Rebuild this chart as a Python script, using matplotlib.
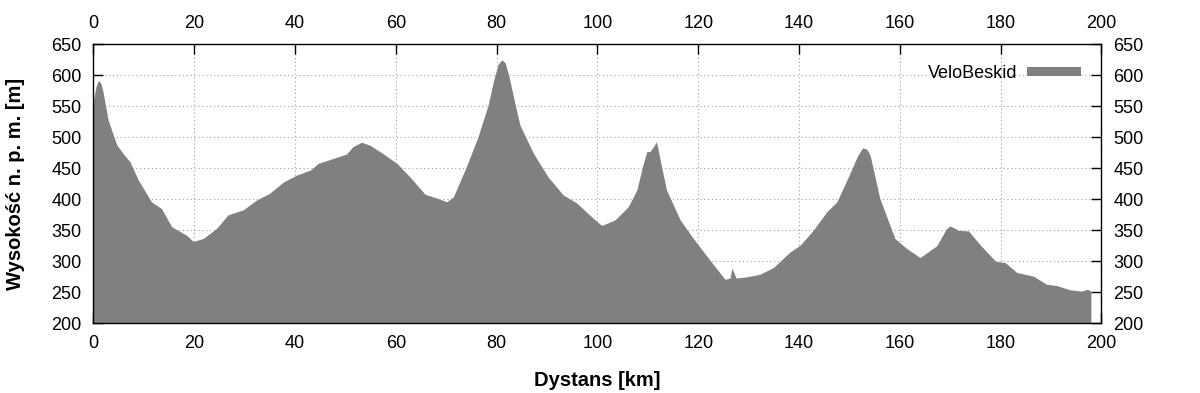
import matplotlib.pyplot as plt
import numpy as np

plt.rcParams['font.family'] = ['Liberation Sans', 'DejaVu Sans']

# profil trasy VeloBeskid
dystans = [0, 0.5, 1.0, 1.5, 1.9, 2.9, 4.6, 6.25, 7.2, 8.9, 11.5, 13.5, 15.5, 17.2, 18.5, 19.8,
           21.8, 24.4, 26.7, 29.7, 32.4, 35, 37.7, 40.3, 43, 44.6, 47.6, 50.2, 51.5,
           53.2, 54.9, 57.2, 60.2, 62.8, 65.8, 68.1, 70.1, 71.4, 74.0, 76.3, 78.3,
           79.4, 80.3, 81.0, 81.7, 82.5, 83.6, 84.6, 87.3, 90.2, 93.2, 95.9, 98.8, 100.8, 102.1,
           103.5, 106.1, 107.8, 109.1, 109.8, 110.4, 111.2, 111.7, 112.7, 113.7, 116.4,
           119.0, 122.3, 125.3, 126.3, 126.7, 127.5, 129.6, 132.2, 134.9, 138.2,
           140.2, 142.8, 145.5, 147.5, 150.1, 151.6, 152.6, 153.4, 154.1, 156.0, 159.0,
           161.3, 164.0, 167.3, 169.2, 169.9, 171.0, 171.6, 173.6, 176.0, 179.0, 180.9, 183.2,
           186.5, 189.1, 191.1, 193.8, 196.1, 197.2, 197.9]
wysokosc = [560, 582, 592, 586, 573, 528, 488, 470, 461, 431, 396, 385, 356, 348, 342, 332,
            337, 353, 375, 383, 399, 410, 428, 439, 447, 458, 466, 473, 485,
            492, 487, 475, 458, 436, 408, 402, 396, 404, 453, 501, 552,
            592, 618, 625, 620, 596, 555, 520, 474, 436, 407, 394, 372, 358, 362,
            367, 388, 415, 458, 477, 477, 486, 493, 453, 415, 367,
            337, 302, 271, 273, 289, 273, 275, 279, 290, 315,
            326, 350, 380, 396, 442, 470, 483, 481, 471, 402, 337,
            321, 306, 325, 352, 357, 353, 350, 349, 326, 300, 298, 282,
            276, 263, 261, 254, 252, 255, 252]

fig = plt.figure(figsize=(12, 3.93), dpi=100)
ax = fig.add_axes([0.0779, 0.1773, 0.8400, 0.7100])

ax.fill_between(dystans, wysokosc, 200, color='#808080', linewidth=0,
                label='VeloBeskid', zorder=2)

ax.set_xlim(0, 200)
ax.set_ylim(200, 650)
ax.set_xticks(np.arange(0, 201, 20))
ax.set_yticks(np.arange(200, 651, 50))
ax.grid(True, color='#a0a0a0', linestyle=(0, (1, 2.5)), linewidth=0.8)
ax.set_axisbelow(True)
ax.tick_params(direction='in', length=7, width=1.0, top=True, right=True,
               labeltop=True, labelright=True, labelsize=13, pad=8.5)
for s in ax.spines.values():
    s.set_linewidth(1.0)
    s.set_zorder(5)

ax.set_xlabel('Dystans [km]', fontsize=14.5, fontweight='bold')
ax.set_ylabel('Wysokość n. p. m. [m]', fontsize=14.5, fontweight='bold')
ax.xaxis.set_label_coords(0.5, -0.17)
ax.yaxis.set_label_coords(-0.068, 0.5)

ax.legend(loc='upper right', frameon=False, markerfirst=False, fontsize=13,
          handlelength=3.0, handleheight=0.45, handletextpad=0.5,
          borderaxespad=0.75)

fig.savefig('out.png', dpi=100)
